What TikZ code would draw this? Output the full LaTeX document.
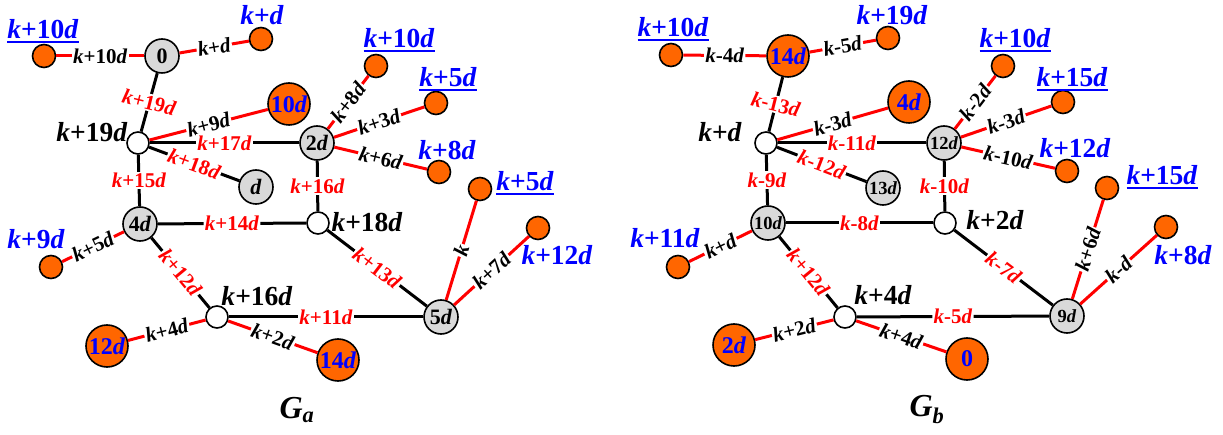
\documentclass[tikz,border=0pt]{standalone}
\usepackage{fontspec}
\setmainfont{Liberation Serif}
\definecolor{org}{HTML}{FF6600}
\definecolor{gry}{HTML}{D9D9D9}
\definecolor{rd}{HTML}{FF0000}
\definecolor{bl}{HTML}{0000FF}
\newcommand\vk{\textit{k}}
\newcommand\vd{\textit{d}}
\newcommand\ulbl[1]{\setbox0\hbox{#1}\leavevmode\rlap{\raisebox{-5pt}[0pt][0pt]{\rule{\wd0}{2pt}}}\box0}
\tikzset{
  wn/.style={circle,draw,fill=white,line width=1.6pt,minimum size=22pt,inner sep=0pt},
  gn/.style={circle,draw,fill=gry,line width=1.6pt,minimum size=34pt,inner sep=0pt,font=\fontsize{22}{22}\selectfont\bfseries},
  gns/.style={gn,font=\fontsize{18.5}{18}\selectfont\bfseries},
  ob/.style={circle,draw,fill=org,line width=1.6pt,minimum size=42pt,inner sep=0pt,text=bl,font=\fontsize{24}{24}\selectfont\bfseries},
  os/.style={circle,draw,fill=org,line width=1.6pt,minimum size=23pt,inner sep=0pt},
  big/.style={inner sep=0pt,font=\fontsize{27.5}{27}\selectfont\bfseries},
  blu/.style={big,text=bl},
  captxt/.style={inner sep=0pt,font=\fontsize{32}{32}\selectfont\bfseries},
  redge/.style={draw=rd,line width=3pt},
  bedge/.style={draw=black,line width=3pt},
  labbase/.style={midway,fill=white,inner sep=1.2pt,font=\fontsize{21}{21}\selectfont\bfseries},
  rlab/.style={labbase,sloped,text=rd},
  rlabh/.style={labbase,text=rd},
  klab/.style={labbase,sloped,text=black},
}
\begin{document}
\begin{tikzpicture}[x=1pt,y=-1pt]
\useasboundingbox (0,0) rectangle (1223,435);
% ---------------- G_a ----------------
\node[gn] (a0) at (162,56) {0};
\node[os] (a0l) at (44,56) {};
\node[os] (a0r) at (261,39) {};
\node[wn] (aA) at (138,143) {};
\node[ob] (a10) at (289,104) {10\vd};
\node[gn] (a2) at (317,143) {2\vd};
\node[gn] (ad) at (256,187) {\vd};
\node[gn] (a4) at (140,224) {4\vd};
\node[wn] (aB) at (318,223) {};
\node[wn] (aC) at (217,317) {};
\node[gn] (a5) at (441,317) {5\vd};
\node[ob] (a12) at (107,346) {12\vd};
\node[ob] (a14) at (338,360) {14\vd};
\node[os] (a4l) at (51,267) {};
\node[os] (a2a) at (376,66) {};
\node[os] (a2b) at (436,103) {};
\node[os] (a2c) at (439,172) {};
\node[os] (a5a) at (480,189) {};
\node[os] (a5b) at (538,228) {};

\draw[redge] (a0) -- node[klab]{\vk+10\vd} (a0l);
\draw[redge] (a0) -- node[klab]{\vk+\vd} (a0r);
\draw[bedge] (a0) -- node[labbase,text=rd,rotate=-14]{\vk+19\vd} (aA);
\draw[redge] (aA) -- node[klab]{\vk+9\vd} (a10);
\draw[bedge] (aA) -- node[rlab]{\vk+17\vd} (a2);
\draw[bedge] (aA) -- node[rlab]{\vk+18\vd} (ad);
\draw[bedge] (aA) -- node[rlabh]{\vk+15\vd} (a4);
\draw[redge] (a2) -- node[klab]{\vk+8\vd} (a2a);
\draw[redge] (a2) -- node[klab]{\vk+3\vd} (a2b);
\draw[redge] (a2) -- node[klab]{\vk+6\vd} (a2c);
\draw[bedge] (a2) -- node[rlabh]{\vk+16\vd} (aB);
\draw[bedge] (a4) -- node[rlab]{\vk+14\vd} (aB);
\draw[redge] (a4) -- node[klab]{\vk+5\vd} (a4l);
\draw[bedge] (a4) -- node[rlab]{\vk+12\vd} (aC);
\draw[bedge] (aB) -- node[rlab]{\vk+13\vd} (a5);
\draw[bedge] (aC) -- node[rlab]{\vk+11\vd} (a5);
\draw[redge] (aC) -- node[klab]{\vk+4\vd} (a12);
\draw[redge] (aC) -- node[klab]{\vk+2\vd} (a14);
\draw[redge] (a5) -- node[klab]{\vk} (a5a);
\draw[redge] (a5) -- node[klab]{\vk+7\vd} (a5b);

\node[blu] (ta1) at (43,29) {\ulbl{\vk+10\vd}};
\node[blu] (ta2) at (262,15) {\vk+\vd};
\node[big] (ta3) at (92,132) {\vk+19\vd};
\node[blu] (ta4) at (399,38) {\ulbl{\vk+10\vd}};
\node[blu] (ta5) at (448,77) {\ulbl{\vk+5\vd}};
\node[blu] (ta6) at (447,150) {\vk+8\vd};
\node[blu] (ta7) at (525,181) {\ulbl{\vk+5\vd}};
\node[blu] (ta8) at (557,255) {\vk+12\vd};
\node[blu] (ta9) at (36,239) {\vk+9\vd};
\node[big] (ta10) at (367,222) {\vk+18\vd};
\node[big] (ta11) at (257,296) {\vk+16\vd};
\node[captxt] (ga) at (297,410) {\textit{G}\textsubscript{\textit{a}}};

% ---------------- G_b ----------------
\node[ob] (b14) at (788,56) {14\vd};
\node[os] (b14l) at (671,55) {};
\node[os] (b14r) at (888,38) {};
\node[wn] (bA) at (766,143) {};
\node[ob] (b4) at (909,102) {4\vd};
\node[gns] (b12) at (944,143) {12\vd};
\node[gns] (b13) at (883,188) {13\vd};
\node[gns] (b10) at (768,223) {10\vd};
\node[wn] (bB) at (945,223) {};
\node[wn] (bC) at (845,317) {};
\node[gns] (b9) at (1067,316) {9\vd};
\node[ob] (b2) at (734,345) {2\vd};
\node[ob] (b0) at (967,359) {0};
\node[os] (b10l) at (678,267) {};
\node[os] (b12a) at (1003,66) {};
\node[os] (b12b) at (1063,102) {};
\node[os] (b12c) at (1067,171) {};
\node[os] (b9a) at (1107,188) {};
\node[os] (b9b) at (1166,227) {};

\draw[redge] (b14) -- node[klab]{\vk-4\vd} (b14l);
\draw[redge] (b14) -- node[klab]{\vk-5\vd} (b14r);
\draw[bedge] (b14) -- node[labbase,text=rd,rotate=-14]{\vk-13\vd} (bA);
\draw[redge] (bA) -- node[klab]{\vk-3\vd} (b4);
\draw[bedge] (bA) -- node[rlab]{\vk-11\vd} (b12);
\draw[bedge] (bA) -- node[rlab]{\vk-12\vd} (b13);
\draw[bedge] (bA) -- node[rlabh]{\vk-9\vd} (b10);
\draw[redge] (b12) -- node[klab]{\vk-2\vd} (b12a);
\draw[redge] (b12) -- node[klab]{\vk-3\vd} (b12b);
\draw[redge] (b12) -- node[klab]{\vk-10\vd} (b12c);
\draw[bedge] (b12) -- node[rlabh]{\vk-10\vd} (bB);
\draw[bedge] (b10) -- node[rlab]{\vk-8\vd} (bB);
\draw[redge] (b10) -- node[klab]{\vk+\vd} (b10l);
\draw[bedge] (b10) -- node[rlab]{\vk+12\vd} (bC);
\draw[bedge] (bB) -- node[rlab]{\vk-7\vd} (b9);
\draw[bedge] (bC) -- node[rlab]{\vk-5\vd} (b9);
\draw[redge] (bC) -- node[klab]{\vk+2\vd} (b2);
\draw[redge] (bC) -- node[klab]{\vk+4\vd} (b0);
\draw[redge] (b9) -- node[klab]{\vk+6\vd} (b9a);
\draw[redge] (b9) -- node[klab]{\vk-\vd} (b9b);

\node[blu] (tb1) at (673,27) {\ulbl{\vk+10\vd}};
\node[blu] (tb2) at (892,15) {\vk+19\vd};
\node[big] (tb3) at (720,132) {\vk+\vd};
\node[blu] (tb4) at (1015,38) {\ulbl{\vk+10\vd}};
\node[blu] (tb5) at (1072,77) {\ulbl{\vk+15\vd}};
\node[blu] (tb6) at (1075,148) {\vk+12\vd};
\node[blu] (tb7) at (1162,175) {\ulbl{\vk+15\vd}};
\node[blu] (tb8) at (1183,255) {\vk+8\vd};
\node[blu] (tb9) at (665,238) {\vk+11\vd};
\node[big] (tb10) at (995,220) {\vk+2\vd};
\node[big] (tb11) at (883,295) {\vk+4\vd};
\node[captxt] (gb) at (927,410) {\textit{G}\textsubscript{\textit{b}}};
\end{tikzpicture}
\end{document}
